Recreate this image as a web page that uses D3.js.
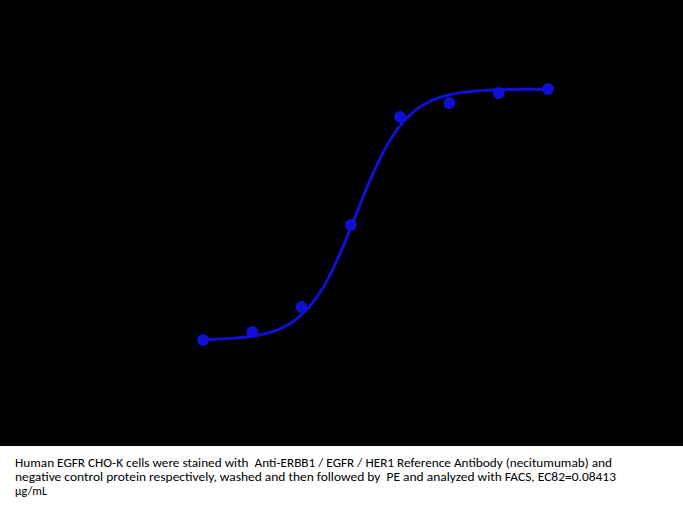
<!DOCTYPE html>
<html><head><meta charset="utf-8">
<script src="https://cdn.jsdelivr.net/npm/d3@7"></script>
<style>
html,body{margin:0;padding:0;background:#fff;}
svg{display:block;}
text{white-space:pre;}
</style></head>
<body>
<svg id="c" width="683" height="506"></svg>
<script>
// Data (concentration in µg/mL, signal MFI)
const concentrations = [0.00137, 0.00412, 0.0123, 0.037, 0.111, 0.333, 1, 3];
const signal = [1000, 1080, 1330, 2150, 3230, 3370, 3470, 3510];
// 4PL fit parameters
const fitBottom = 1000, fitTop = 3510, fitEC50 = 0.0416, fitHill = 1.8;
const captionLines = [
  "Human EGFR CHO-K cells were stained with  Anti-ERBB1 / EGFR / HER1 Reference Antibody (necitumumab) and",
  "negative control protein respectively, washed and then followed by  PE and analyzed with FACS, EC82=0.08413",
  "\u00b5g/mL"
];

const svg = d3.select("#c");
svg.append("rect").attr("x",0).attr("y",0).attr("width",683).attr("height",446).attr("fill","#000");

const x = d3.scaleLog().domain([concentrations[0], concentrations[7]]).range([203, 548]);
const y = d3.scaleLinear().domain([0, 4000]).range([440, 40]);

const fit = c => fitBottom + (fitTop - fitBottom) / (1 + Math.pow(fitEC50 / c, fitHill));
const lo = Math.log10(concentrations[0]), hi = Math.log10(concentrations[7]);
const curvePts = d3.range(0, 201).map(i => Math.pow(10, lo + i/200*(hi - lo)));
svg.append("path")
  .datum(curvePts)
  .attr("fill","none").attr("stroke","#1010d4").attr("stroke-width",3)
  .attr("d", d3.line().x(c => x(c)).y(c => y(fit(c))));

svg.selectAll("path.pt").data(concentrations).enter().append("path")
  .attr("class","pt")
  .attr("transform",(c,i)=>`translate(${x(c)},${y(signal[i])})`)
  .attr("d", d3.symbol().type(d3.symbolCircle).size(110))
  .attr("fill","#1010d4");

const widths = [597, 601, null];
const t = svg.append("g").attr("font-family","Carlito, 'Liberation Sans Narrow', 'Open Sans', sans-serif").attr("font-size","12px").attr("fill","#000");
captionLines.forEach((s,i)=>{
  const el = t.append("text").attr("x",15).attr("y",467 + i*14).attr("xml:space","preserve").text(s);
  if (widths[i]) el.attr("textLength", widths[i]).attr("lengthAdjust","spacingAndGlyphs");
});
</script>
</body></html>
